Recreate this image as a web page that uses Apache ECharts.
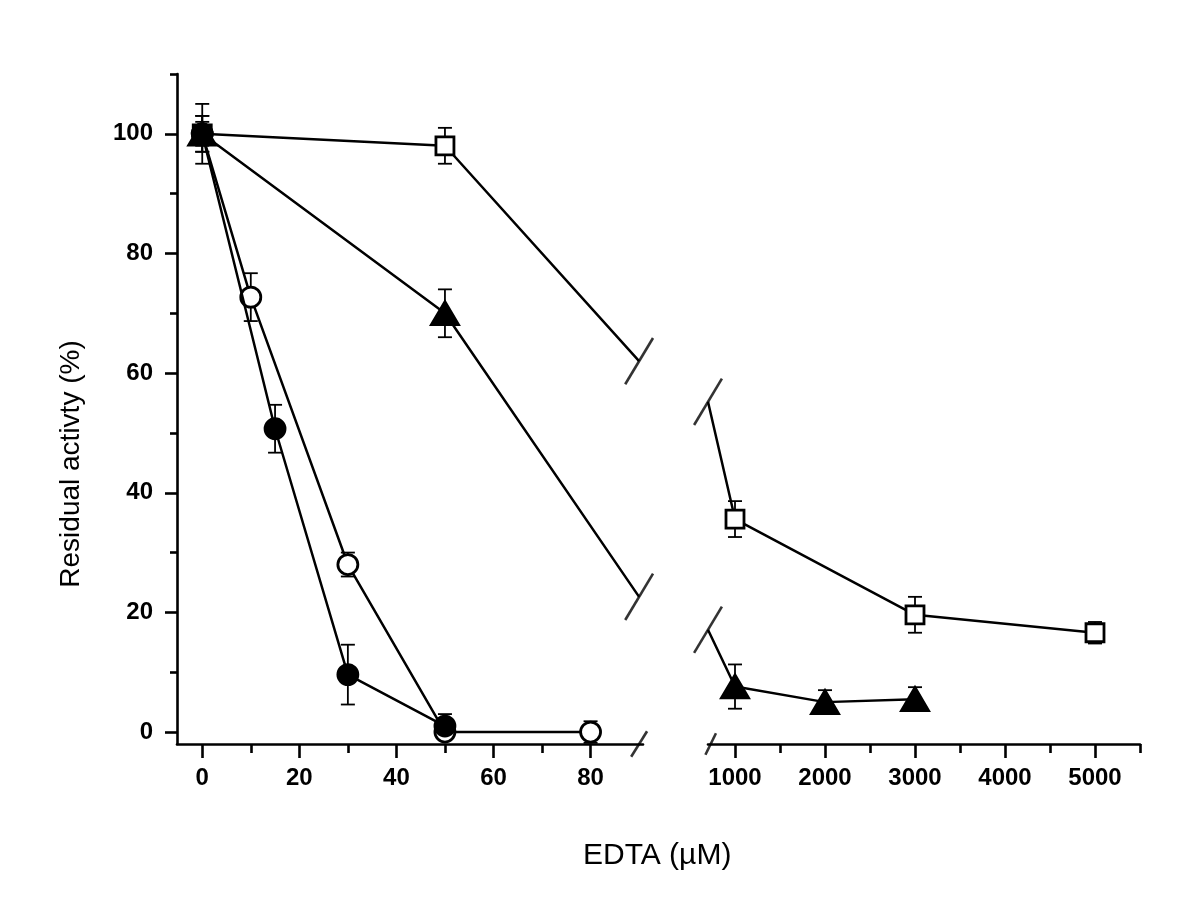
<!DOCTYPE html>
<html>
<head>
<meta charset="utf-8">
<script src="https://cdn.jsdelivr.net/npm/echarts@6/dist/echarts.min.js"></script>
<style>html,body{margin:0;padding:0;background:#fff;}#c{width:1200px;height:901px;}</style>
</head>
<body>
<div id="c"></div>
<script>
// ---- data ----
// left panel (EDTA 0-90 µM)
var openSquareL   = [[0, 100], [50, 98], [90, 62]];        // last point: line end at the axis break
var openSquareLErr = [2, 3, null];
var triangleL     = [[0, 100], [50, 70], [90, 22.6]];
var triangleLErr  = [3, 4, null];
var openCircle    = [[0, 100], [10, 72.7], [30, 28], [50, 0], [80, 0]];
var openCircleErr = [5, 4, 2, 0.8, 1.8];
var filledCircle  = [[0, 100], [15, 50.7], [30, 9.6], [50, 1]];
var filledCircleErr = [3, 4, 5, 2];
// right panel (EDTA 700-5500 µM)
var openSquareR   = [[700, 55.2], [1000, 35.6], [3000, 19.6], [5000, 16.6]]; // first point: line start at the break
var openSquareRErr = [null, 3, 3, 1.8];
var triangleR     = [[700, 17.1], [1000, 7.6], [2000, 5], [3000, 5.5]];
var triangleRErr  = [null, 3.7, 2, 2];

// axis ticks
var yMajor = [0, 20, 40, 60, 80, 100];
var yMinor = [10, 30, 50, 70, 90, 110];
var xLeftMajor = [0, 20, 40, 60, 80];
var xLeftMinor = [10, 30, 50, 70];
var xRightMajor = [1000, 2000, 3000, 4000, 5000];
var xRightMinor = [1500, 2500, 3500, 4500, 5500];

var yTitle = 'Residual activty (%)';
var xTitle = 'EDTA (\u00b5M)';

// ---- chart ----
var FONT = 'Liberation Sans, Arial, sans-serif';
var chart = echarts.init(document.getElementById('c'), null, {renderer: 'canvas'});

function withStubs(arr, stubIdx) {
  return arr.map(function (p, i) {
    return stubIdx.indexOf(i) >= 0 ? {value: p, symbol: 'none'} : p;
  });
}
function errData(arr, errs) {
  var out = [];
  arr.forEach(function (p, i) { if (errs[i] != null) out.push([p[0], p[1], errs[i]]); });
  return out;
}
function yi(xi) { return xi === 0 ? 0 : 2; }
function errSeries(arr, errs, xi) {
  return {
    type: 'custom', xAxisIndex: xi, yAxisIndex: yi(xi), z: 1, clip: false,
    data: errData(arr, errs),
    renderItem: function (params, api) {
      var x = api.value(0), y = api.value(1), e = api.value(2);
      var top = api.coord([x, y + e]), bot = api.coord([x, y - e]);
      var w = 7;
      var st = {stroke: '#000', lineWidth: 1.8};
      return {type: 'group', children: [
        {type: 'line', shape: {x1: top[0], y1: top[1], x2: bot[0], y2: bot[1]}, style: st},
        {type: 'line', shape: {x1: top[0] - w, y1: top[1], x2: top[0] + w, y2: top[1]}, style: st},
        {type: 'line', shape: {x1: bot[0] - w, y1: bot[1], x2: bot[0] + w, y2: bot[1]}, style: st}
      ]};
    }
  };
}
function lineSeries(data, xi, symbol, size, filled, z) {
  return {
    type: 'line', xAxisIndex: xi, yAxisIndex: yi(xi), z: z || 3,
    data: data, symbol: symbol, symbolSize: size, showAllSymbol: true,
    lineStyle: {color: '#000', width: 2.5},
    itemStyle: {color: filled ? '#000' : '#fff', borderColor: '#000', borderWidth: 2.8},
    emphasis: {disabled: true}, animation: false
  };
}
function breakMarks(points, xi, len, rot) {
  return {
    type: 'scatter', xAxisIndex: xi, yAxisIndex: yi(xi), z: 5, clip: false,
    data: points, symbol: 'rect', symbolSize: [2.6, len], symbolRotate: rot,
    itemStyle: {color: '#000'}, emphasis: {disabled: true}, animation: false
  };
}
function plain(v) { return String(v); }

var axisLabelStyle = {color: '#000', fontFamily: FONT, fontWeight: 'bold', fontSize: 24, formatter: plain};
var lineStyle = {color: '#000', width: 2.6};
var tickStyle = {color: '#000', width: 2.6};

var option = {
  animation: false,
  backgroundColor: '#fff',
  title: {text: xTitle, left: 578, top: 836,
          textStyle: {fontFamily: FONT, fontWeight: 'normal', fontSize: 30, color: '#000'}},
  grid: [
    {left: 177, top: 74, width: 466, height: 670},
    {left: 708, top: 74, width: 432, height: 670}
  ],
  xAxis: [
    {gridIndex: 0, position: 'bottom', type: 'value', min: -5.2, max: 90.8, splitLine: {show: false},
     axisLine: {show: true, onZero: false, lineStyle: lineStyle},
     axisTick: {show: true, length: 14, customValues: xLeftMajor, lineStyle: tickStyle},
     axisLabel: Object.assign({customValues: xLeftMajor, margin: 22}, axisLabelStyle)},
    {gridIndex: 0, position: 'bottom', type: 'value', min: -5.2, max: 90.8, splitLine: {show: false},
     axisLine: {show: false, onZero: false},
     axisTick: {show: true, length: 9, customValues: xLeftMinor, lineStyle: tickStyle},
     axisLabel: {show: false}},
    {gridIndex: 1, position: 'bottom', type: 'value', min: 700, max: 5500, splitLine: {show: false},
     axisLine: {show: true, onZero: false, lineStyle: lineStyle},
     axisTick: {show: true, length: 14, customValues: xRightMajor, lineStyle: tickStyle},
     axisLabel: Object.assign({customValues: xRightMajor, margin: 22}, axisLabelStyle)},
    {gridIndex: 1, position: 'bottom', type: 'value', min: 700, max: 5500, splitLine: {show: false},
     axisLine: {show: false, onZero: false},
     axisTick: {show: true, length: 9, customValues: xRightMinor, lineStyle: tickStyle},
     axisLabel: {show: false}}
  ],
  yAxis: [
    {gridIndex: 0, position: 'left', type: 'value', min: -2, max: 110, splitLine: {show: false},
     axisLine: {show: true, onZero: false, lineStyle: lineStyle},
     axisTick: {show: true, length: 12, customValues: yMajor, lineStyle: tickStyle},
     axisLabel: Object.assign({customValues: yMajor, margin: 24}, axisLabelStyle),
     name: yTitle, nameLocation: 'middle', nameGap: 92, nameRotate: 90,
     nameTextStyle: {fontFamily: FONT, fontSize: 28, color: '#000', padding: [0, 110, 0, 0]}},
    {gridIndex: 0, position: 'left', type: 'value', min: -2, max: 110, splitLine: {show: false},
     axisLine: {show: false, onZero: false},
     axisTick: {show: true, length: 7, customValues: yMinor, lineStyle: tickStyle},
     axisLabel: {show: false}},
    {gridIndex: 1, type: 'value', min: -2, max: 110, show: false}
  ],
  series: [
    errSeries(openSquareL, openSquareLErr, 0),
    errSeries(triangleL, triangleLErr, 0),
    errSeries(openCircle, openCircleErr, 0),
    errSeries(filledCircle, filledCircleErr, 0),
    errSeries(openSquareR, openSquareRErr, 2),
    errSeries(triangleR, triangleRErr, 2),
    lineSeries(withStubs(openSquareL, [2]), 0, 'rect', 18, false, 2),
    lineSeries(openCircle, 0, 'circle', 20, false, 3),
    lineSeries(withStubs(triangleL, [2]), 0, 'triangle', [27, 23], true, 4),
    lineSeries(filledCircle, 0, 'circle', 20, true, 4),
    lineSeries(withStubs(openSquareR, [0]), 2, 'rect', 18, false),
    lineSeries(withStubs(triangleR, [0]), 2, 'triangle', [27, 23], true),
    // axis-break slashes on the data lines
    breakMarks([openSquareL[2], triangleL[2]], 0, 54, -31),
    breakMarks([openSquareR[0], triangleR[0]], 2, 54, -31),
    // axis-break slashes on the x axis
    breakMarks([[90, -2]], 0, 30, -32),
    breakMarks([[730, -2]], 2, 24, -26)
  ]
};
chart.setOption(option);
</script>
</body>
</html>
